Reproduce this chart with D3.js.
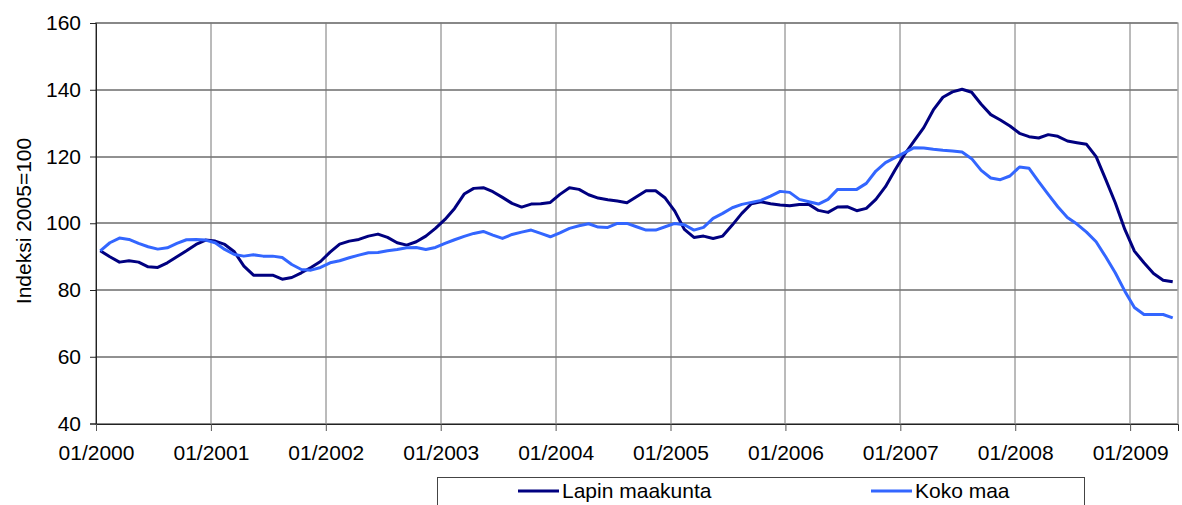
<!DOCTYPE html>
<html>
<head>
<meta charset="utf-8">
<script src="https://cdn.jsdelivr.net/npm/d3@7"></script>
<style>
  body { margin: 0; background: #fff; }
  svg { display: block; font-family: "Liberation Sans", Arial, sans-serif; }
</style>
</head>
<body>
<div id="chart"></div>
<script>
// monthly index values, 01/2000 .. 05/2009 (113 months)
const lapin = [
  91.6, 89.8, 88.2, 88.6, 88.2, 86.8, 86.6, 88.0, 89.8, 91.6, 93.5, 94.8,
  94.5, 93.5, 91.3, 87.0, 84.3, 84.3, 84.3, 83.1, 83.6, 85.0, 86.6, 88.4,
  91.2, 93.6, 94.5, 95.0, 96.0, 96.6, 95.6, 94.0, 93.3, 94.3, 96.0, 98.3,
  101.0, 104.3, 108.6, 110.3, 110.5, 109.3, 107.6, 105.8, 104.7, 105.6, 105.7, 106.1,
  108.5, 110.5, 110.0, 108.4, 107.4, 106.9, 106.5, 106.0, 107.8, 109.6, 109.6, 107.4,
  103.5, 98.0, 95.6, 96.0, 95.3, 96.0, 99.3, 102.8, 105.7, 106.3, 105.7, 105.3,
  105.1, 105.5, 105.5, 103.7, 103.1, 104.7, 104.8, 103.6, 104.3, 107.0, 110.8, 115.8,
  120.5, 124.5, 128.5, 133.8, 137.6, 139.2, 140.0, 139.1, 135.5, 132.4, 130.8, 129.0,
  126.8, 125.8, 125.4, 126.4, 125.9, 124.5, 124.0, 123.5, 119.8, 113.0, 106.0, 98.0,
  91.5, 88.0, 84.8, 82.8, 82.3
];
const kokoMaa = [
  91.6, 94.0, 95.4, 95.0, 93.8, 92.8, 92.1, 92.5, 93.8, 94.9, 95.0, 94.8,
  94.0, 92.0, 90.5, 90.0, 90.4, 90.0, 90.0, 89.6, 87.5, 86.0, 85.8, 86.6,
  88.0, 88.6, 89.5, 90.3, 91.0, 91.1, 91.6, 92.0, 92.5, 92.6, 92.0, 92.6,
  93.8, 94.9, 95.9, 96.8, 97.4, 96.3, 95.3, 96.5, 97.2, 97.8, 96.8, 95.8,
  97.0, 98.3, 99.1, 99.7, 98.7, 98.6, 99.8, 99.8, 98.8, 97.8, 97.8, 98.8,
  99.8, 99.4, 97.8, 98.6, 101.3, 102.8, 104.5, 105.5, 106.1, 106.7, 108.0, 109.4,
  109.1, 107.0, 106.3, 105.6, 107.0, 110.0, 110.0, 110.0, 111.8, 115.5, 118.0, 119.5,
  121.0, 122.5, 122.4, 122.0, 121.7, 121.5, 121.2, 119.2, 115.7, 113.4, 112.9, 114.0,
  116.7, 116.3, 112.3, 108.5, 104.8, 101.6, 99.6, 97.2, 94.3, 89.8, 85.0, 79.5,
  74.6, 72.5, 72.5, 72.5, 71.5
];
const tickLabels = ['01/2000', '01/2001', '01/2002', '01/2003', '01/2004',
  '01/2005', '01/2006', '01/2007', '01/2008', '01/2009'];
const yTicks = [40, 60, 80, 100, 120, 140, 160];
const seriesNames = ['Lapin maakunta', 'Koko maa'];
const seriesColors = ['#000080', '#3366ff'];

const width = 1182, height = 505;
const margin = { top: 22.5, right: 4.5, bottom: 82, left: 95.5 };
const innerW = width - margin.left - margin.right;
const innerH = height - margin.top - margin.bottom;
const font = '"Liberation Sans", Arial, sans-serif';
const fontSize = 21;

const svg = d3.select('#chart').append('svg')
  .attr('width', width)
  .attr('height', height);

const chart = svg.append('g')
  .attr('transform', `translate(${margin.left}, ${margin.top})`);

const nMonths = lapin.length;
const x = d3.scaleLinear().domain([0, nMonths]).range([0, innerW]);
const y = d3.scaleLinear().domain([40, 160]).range([innerH, 0]);

// horizontal gridlines
chart.append('g')
  .selectAll('line')
  .data(yTicks)
  .join('line')
  .attr('x1', 0).attr('x2', innerW)
  .attr('y1', d => Math.round(y(d)) + 0.5).attr('y2', d => Math.round(y(d)) + 0.5)
  .attr('stroke', '#222')
  .attr('stroke-width', 1);

// vertical gridlines, one per year
chart.append('g')
  .selectAll('line')
  .data(tickLabels.map((d, i) => i * 12))
  .join('line')
  .attr('x1', d => Math.round(x(d)) + 0.5).attr('x2', d => Math.round(x(d)) + 0.5)
  .attr('y1', 0).attr('y2', innerH)
  .attr('stroke', '#777')
  .attr('stroke-width', 1);

// plot frame
chart.append('rect')
  .attr('x', 0.5).attr('y', 0.5)
  .attr('width', Math.round(innerW)).attr('height', Math.round(innerH))
  .attr('fill', 'none')
  .attr('stroke', '#808080');

// y axis
const yAxis = chart.append('g')
  .attr('transform', 'translate(0.5, 0.5)')
  .call(d3.axisLeft(y).tickValues(yTicks).tickSize(6).tickPadding(9));
yAxis.select('.domain').attr('stroke', '#222');
yAxis.selectAll('.tick line').attr('stroke', '#222');
yAxis.selectAll('.tick text')
  .attr('font-size', fontSize)
  .attr('font-family', font)
  .attr('fill', '#000');

// x axis
const xAxis = chart.append('g')
  .attr('transform', `translate(0.5, ${Math.round(innerH) + 0.5})`)
  .call(d3.axisBottom(x)
    .tickValues(tickLabels.map((d, i) => i * 12))
    .tickFormat((d, i) => tickLabels[i])
    .tickSize(7).tickPadding(14));
xAxis.select('.domain').attr('stroke', '#222');
xAxis.selectAll('.tick line').attr('stroke', '#555');
xAxis.selectAll('.tick text')
  .attr('font-size', fontSize)
  .attr('font-family', font)
  .attr('fill', '#000');

// y axis title
svg.append('text')
  .attr('transform', 'translate(31, 221) rotate(-90)')
  .attr('text-anchor', 'middle')
  .attr('font-size', fontSize)
  .attr('font-family', font)
  .attr('fill', '#000')
  .text('Indeksi 2005=100');

// lines
const line = d3.line()
  .x((d, i) => x(i + 0.5))
  .y(d => y(d));

[lapin, kokoMaa].forEach((series, k) => {
  chart.append('path')
    .datum(series)
    .attr('fill', 'none')
    .attr('stroke', seriesColors[k])
    .attr('stroke-width', 3)
    .attr('stroke-linejoin', 'round')
    .attr('d', line);
});

// legend
const legend = svg.append('g');
legend.append('rect')
  .attr('x', 437.5).attr('y', 477.5)
  .attr('width', 647).attr('height', 40)
  .attr('fill', '#fff')
  .attr('stroke', '#444');

const legendX = [518, 871];
seriesNames.forEach((name, k) => {
  legend.append('line')
    .attr('x1', legendX[k]).attr('x2', legendX[k] + 41)
    .attr('y1', 491).attr('y2', 491)
    .attr('stroke', seriesColors[k])
    .attr('stroke-width', 3);
  legend.append('text')
    .attr('x', legendX[k] + 44)
    .attr('y', 498)
    .attr('font-size', fontSize)
    .attr('font-family', font)
    .attr('fill', '#000')
    .text(name);
});
</script>
</body>
</html>
